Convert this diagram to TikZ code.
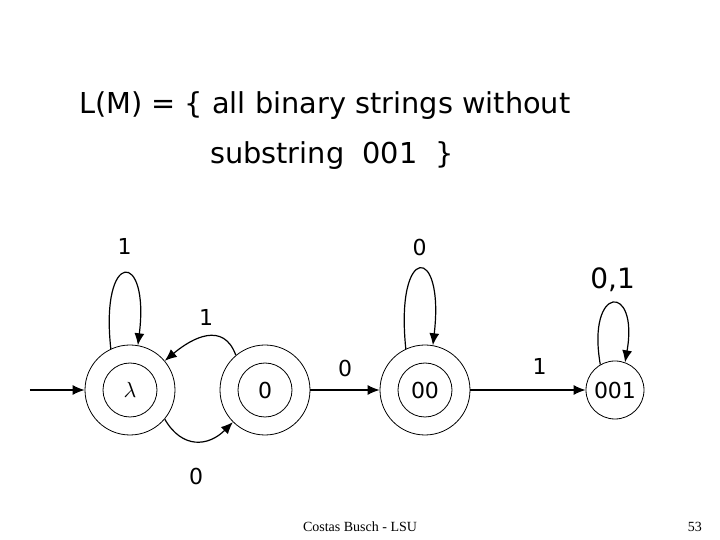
\documentclass[tikz,border=0pt]{standalone}
\usepackage{fontspec}
\setmainfont{DejaVu Sans}
\newfontfamily\footfont{Liberation Serif}
\usetikzlibrary{arrows.meta}
\tikzset{
  state/.style={circle,draw,thin,minimum size=45pt,inner sep=0pt,font=\fontsize{11}{13}\selectfont},
  accepting/.style={append after command={\pgfextra{\draw[thin] (\tikzlastnode.center) circle[radius=13.5pt];}}},
  edge/.style={-{Latex[length=6pt,width=5pt]},semithick},
  lbl/.style={font=\fontsize{11}{13}\selectfont}
}
\begin{document}
\begin{tikzpicture}[x=0.5pt,y=-0.5pt]
  \useasboundingbox (0,0) rectangle (720,540);
  % title
  \node[anchor=base west,font=\fontsize{14.4}{17}\selectfont] (title1) at (72,114) {L(M) = \{ all binary strings without};
  \node[anchor=base west,font=\fontsize{14.4}{17}\selectfont] (title2) at (203,164) {substring \ 001 \ \}};
  % states
  \node[state,accepting] (lam) at (130,390) {$\lambda$};
  \node[state,accepting] (q0) at (265,390) {0};
  \node[state,accepting] (q00) at (425,390) {00};
  \node[state,minimum size=29pt] (q001) at (615,390) {001};
  \coordinate (start) at (30,390);

  \draw[edge] (start) -- (lam);
  \draw[edge] (q0) -- node[lbl,above,pos=0.5,yshift=3pt] {0} (q00);
  \draw[edge] (q00) -- node[lbl,above,pos=0.6,yshift=4pt] {1} (q001);
  \draw[edge] (q0.130) to[out=110,in=40,looseness=1.3] node[lbl,above,yshift=2pt] {1} (lam.40);
  \draw[edge] (lam.-40) to[out=-60,in=-135,looseness=1.3] node[lbl,below,yshift=-10pt] {0} (q0.-135);
  \draw[edge] (lam.115) .. controls +(-11,-100) and +(12,-96) .. node[lbl,above,pos=0.5,yshift=6pt] {1} (lam.80);
  \draw[edge] (q00.115) .. controls +(-11,-106) and +(12,-102) .. node[lbl,above,pos=0.5,yshift=3pt] {0} (q00.80);
  \draw[edge] (q001.120) .. controls +(-14,-80) and +(14,-80) .. node[lbl,above,yshift=2pt,font=\fontsize{14}{16}\selectfont] {0,1} (q001.70);

  % footer
  \node[font=\footfont\fontsize{7}{8}\selectfont] (foot) at (360,527) {Costas Busch - LSU};
  \node[font=\footfont\fontsize{7}{8}\selectfont] (page) at (695,527) {53};
\end{tikzpicture}
\end{document}
